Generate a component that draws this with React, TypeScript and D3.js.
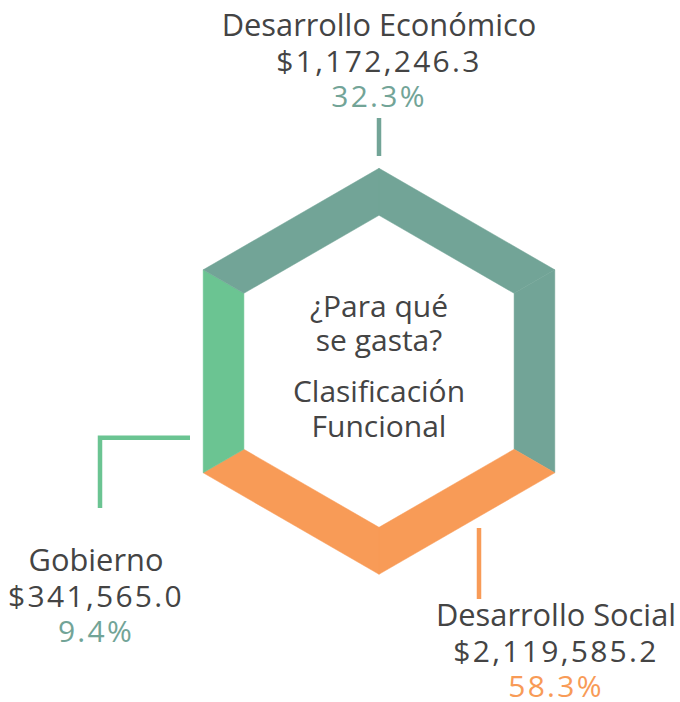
import React from "react";
import * as d3 from "d3";

const categories = ["Desarrollo Económico", "Desarrollo Social", "Gobierno"];
const amounts = ["$1,172,246.3", "$2,119,585.2", "$341,565.0"];
const percents = ["32.3%", "58.3%", "9.4%"];
const colors = ["#72A497", "#F89B57", "#6BC492"];
const pctColors = ["#72A497", "#F89B57", "#72A497"];
// which category colours each of the six hexagon sides (clockwise from the top vertex)
const sideCategory = [0, 0, 1, 1, 2, 0];
const centerLines = ["¿Para qué", "se gasta?", "Clasificación", "Funcional"];

const W = 680;
const H = 702;
const cx = 379;
const cy = 371.3;
const R = 203;
const r = 156;
const textColor = "#444444";
const font = "'Open Sans', sans-serif";

export default function App() {
  const angles = d3.range(6).map((i) => -Math.PI / 2 + (i * Math.PI) / 3);
  const outer = angles.map((a) => [cx + R * Math.cos(a), cy + R * Math.sin(a)]);
  const inner = angles.map((a) => [cx + r * Math.cos(a), cy + r * Math.sin(a)]);
  const line = d3.line();

  const sides = sideCategory.map((c, i) => {
    const j = (i + 1) % 6;
    const pts: [number, number][] = [
      outer[i] as [number, number],
      outer[j] as [number, number],
      inner[j] as [number, number],
      inner[i] as [number, number],
    ];
    return { d: line(pts) + "Z", color: colors[c] };
  });

  const labels = [
    { x: 379, y: 36, i: 0 },
    { x: 556, y: 626, i: 1 },
    { x: 96, y: 571, i: 2 },
  ];
  const lh = 35.5;

  return (
    <svg width={W} height={H} style={{ position: "absolute", left: 0, top: 0 }}>
      <rect width={W} height={H} fill="#ffffff" />
      {sides.map((s, k) => (
        <path key={k} d={s.d} fill={s.color} stroke={s.color} strokeWidth={0.5} />
      ))}
      <line x1={379} x2={379} y1={118} y2={156} stroke={colors[0]} strokeWidth={4.5} />
      <line x1={479} x2={479} y1={528} y2={599} stroke={colors[1]} strokeWidth={4.5} />
      <path d="M190,437.7 H100 V508" fill="none" stroke={colors[2]} strokeWidth={4.5} />
      {labels.map((l) => (
        <g key={l.i} fontFamily={font} textAnchor="middle">
          <text x={l.x} y={l.y} fill={textColor} fontSize={30.8}>{categories[l.i]}</text>
          <text x={l.x} y={l.y + lh} fill={textColor} fontSize={30} letterSpacing={2.3}>{amounts[l.i]}</text>
          <text x={l.x} y={l.y + 2 * lh} fill={pctColors[l.i]} fontSize={30} letterSpacing={2.3}>{percents[l.i]}</text>
        </g>
      ))}
      <g fontFamily={font} textAnchor="middle" fill={textColor} fontSize={30}>
        <text x={cx} y={317}>{centerLines[0]}</text>
        <text x={cx} y={351}>{centerLines[1]}</text>
        <text x={cx} y={402}>{centerLines[2]}</text>
        <text x={cx} y={437}>{centerLines[3]}</text>
      </g>
    </svg>
  );
}
